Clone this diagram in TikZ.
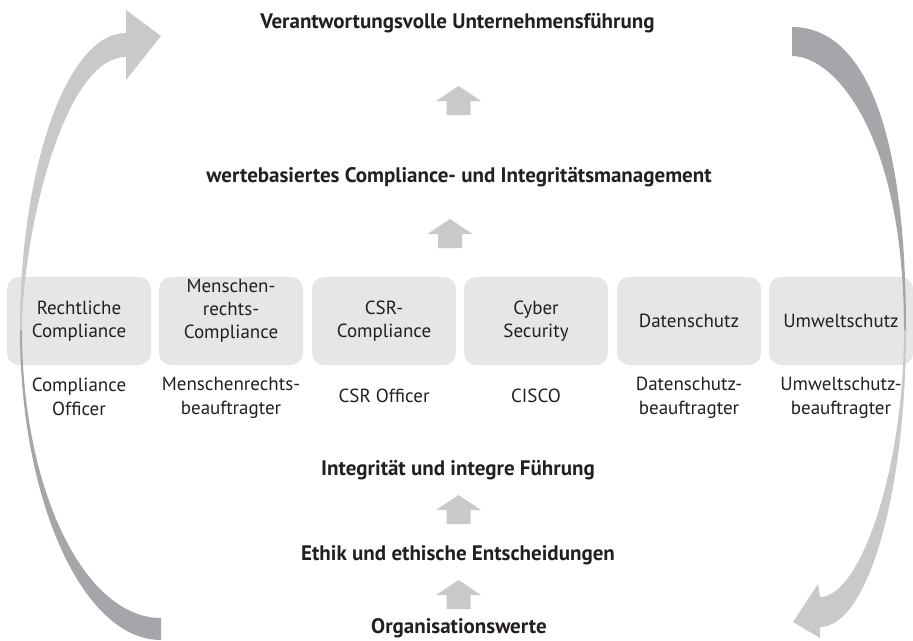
\documentclass[tikz,border=0pt]{standalone}
\usepackage{fontspec}
\setmainfont{PT Sans}
\definecolor{txt}{HTML}{231F20}
\definecolor{boxfill}{HTML}{E6E6E7}
\definecolor{arrlight}{HTML}{C8C9CB}
\definecolor{arrdark}{HTML}{A5A6A9}
\begin{document}
\begin{tikzpicture}[x=1pt,y=-1pt,
  lvl/.style={font=\bfseries\fontsize{21}{24}\selectfont, text=txt, inner sep=0pt, anchor=base},
  area/.style={fill=boxfill, rounded corners=12pt, minimum width=144pt, minimum height=88pt,
    inner sep=0pt, align=center, font=\fontsize{19}{23}\selectfont, text=txt},
  role/.style={align=center, font=\fontsize{19}{24}\selectfont, text=txt, inner sep=0pt},
  uparr/.pic={\fill[arrlight] (0,0) -- (22.5,15) -- (12,15) -- (12,29) -- (-12,29) -- (-12,15) -- (-22.5,15) -- cycle;}
]
\useasboundingbox (0,0) rectangle (913,640);
\clip (0,0) rectangle (913,640);

% level texts
\node[lvl] (t1) at (457.5,28) {Verantwortungsvolle Unternehmensführung};
\node[lvl] (t2) at (459,182) {wertebasiertes Compliance- und Integritätsmanagement};
\node[lvl] (t3) at (458,475) {Integrität und integre Führung};
\node[lvl] (t4) at (458,560) {Ethik und ethische Entscheidungen};
\node[lvl] (t5) at (459,633) {Organisationswerte};

% upward block arrows
\pic at (458.5,86) {uparr};
\pic at (450,219) {uparr};
\pic at (458.5,495) {uparr};
\pic at (458.5,580) {uparr};

% compliance areas
\node[area] (b1) at (79,321) {Rechtliche\\Compliance};
\node[area] (b2) at (231,321) {Menschen-\\rechts-\\Compliance\rule[-23.5pt]{0pt}{23.5pt}};
\node[area] (b3) at (384,321) {CSR-\\Compliance};
\node[area] (b4) at (536,321) {Cyber\\Security};
\node[area] (b5) at (689,321) {Datenschutz};
\node[area] (b6) at (841,321) {Umweltschutz};

% roles
\node[role] (r1) at (79,397) {Compliance\\Officer};
\node[role] (r2) at (231,398) {Menschenrechts-\\beauftragter};
\node[role] (r3) at (384,395.5) {CSR Officer};
\node[role] (r4) at (536,395.5) {CISCO};
\node[role] (r5) at (689,398) {Datenschutz-\\beauftragter};
\node[role] (r6) at (841,398) {Umweltschutz-\\beauftragter};

% left curved arrow
\fill[arrdark] (20,330) .. controls (20,501) and (83,640) .. (161,640)
  -- (161,618) .. controls (84,618) and (22,489) .. (22,330) -- cycle;
\fill[arrlight] (20,330) .. controls (20,166) and (67.5,33) .. (126,33)
  -- (126,10) -- (161,36) -- (126,80) -- (126,57)
  .. controls (62,57) and (22,240) .. (22,330) -- cycle;

% right curved arrow
\fill[arrdark] (792,27) .. controls (861,27) and (906,120) .. (906,330)
  -- (904,330) .. controls (904,135) and (835,56) .. (792,56) -- cycle;
\fill[arrlight] (906,330) .. controls (906,494) and (867.5,627) .. (820,627)
  -- (820,638) -- (793,622) -- (818,584) -- (820,597)
  .. controls (860,597) and (904,470) .. (904,330) -- cycle;
\end{tikzpicture}
\end{document}
